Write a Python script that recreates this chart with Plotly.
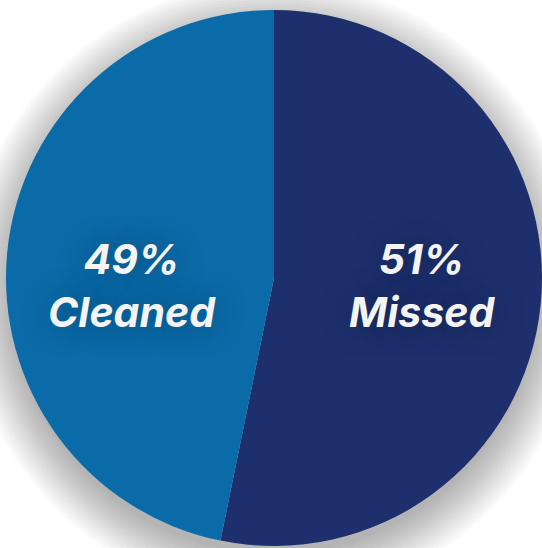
import plotly.graph_objects as go

# Data
categories = ["Missed", "Cleaned"]
percent_labels = [51, 49]          # printed percentages
slice_share = [53.2, 46.8]          # slice angles as drawn in the picture
colors = ["#1d306d", "#0b6aa8"]

W, H = 542, 548
cx, cy, R = 274, 278, 268   # pixel geometry of the pie

fig = go.Figure()
fig.add_trace(go.Pie(
    labels=categories,
    values=slice_share,
    sort=False,
    direction="clockwise",
    rotation=0,
    marker=dict(colors=colors, line=dict(width=0)),
    textinfo="none",
    hoverinfo="label+percent",
    showlegend=False,
    domain=dict(x=[(cx - R) / W, (cx + R) / W],
                y=[(H - cy - R) / H, (H - cy + R) / H]),
))

# soft drop shadow made of layered translucent circles
shapes = []
n = 16
for i in range(n):
    rr = R - 4 + i * 3.0
    oy = 12
    shapes.append(dict(
        type="circle", xref="paper", yref="paper", layer="below",
        x0=(cx - rr) / W, x1=(cx + rr) / W,
        y0=(H - (cy + oy) - rr) / H, y1=(H - (cy + oy) + rr) / H,
        fillcolor="rgba(0,0,0,0.018)", line=dict(width=0),
    ))

label_pos = {"Missed": (422, 285), "Cleaned": (132, 285)}
annotations = []
for cat, pct in zip(categories, percent_labels):
    px, py = label_pos[cat]
    annotations.append(dict(
        x=px / W, y=(H - py) / H, xref="paper", yref="paper",
        xanchor="center", yanchor="middle",
        text=f"{pct}%<br>{cat}", showarrow=False, align="center",
        font=dict(family="Inter", size=41, weight=700, style="italic",
                  color="#f4f4f4", shadow="0px 0px 30px rgba(0,0,0,0.35)"),
    ))

fig.update_layout(
    width=W, height=H,
    margin=dict(l=0, r=0, t=0, b=0),
    paper_bgcolor="white", plot_bgcolor="white",
    shapes=shapes, annotations=annotations,
)

fig.write_html("out.html", include_plotlyjs=True,
               config={"displayModeBar": False},
               post_script="document.body.style.margin='0';")
